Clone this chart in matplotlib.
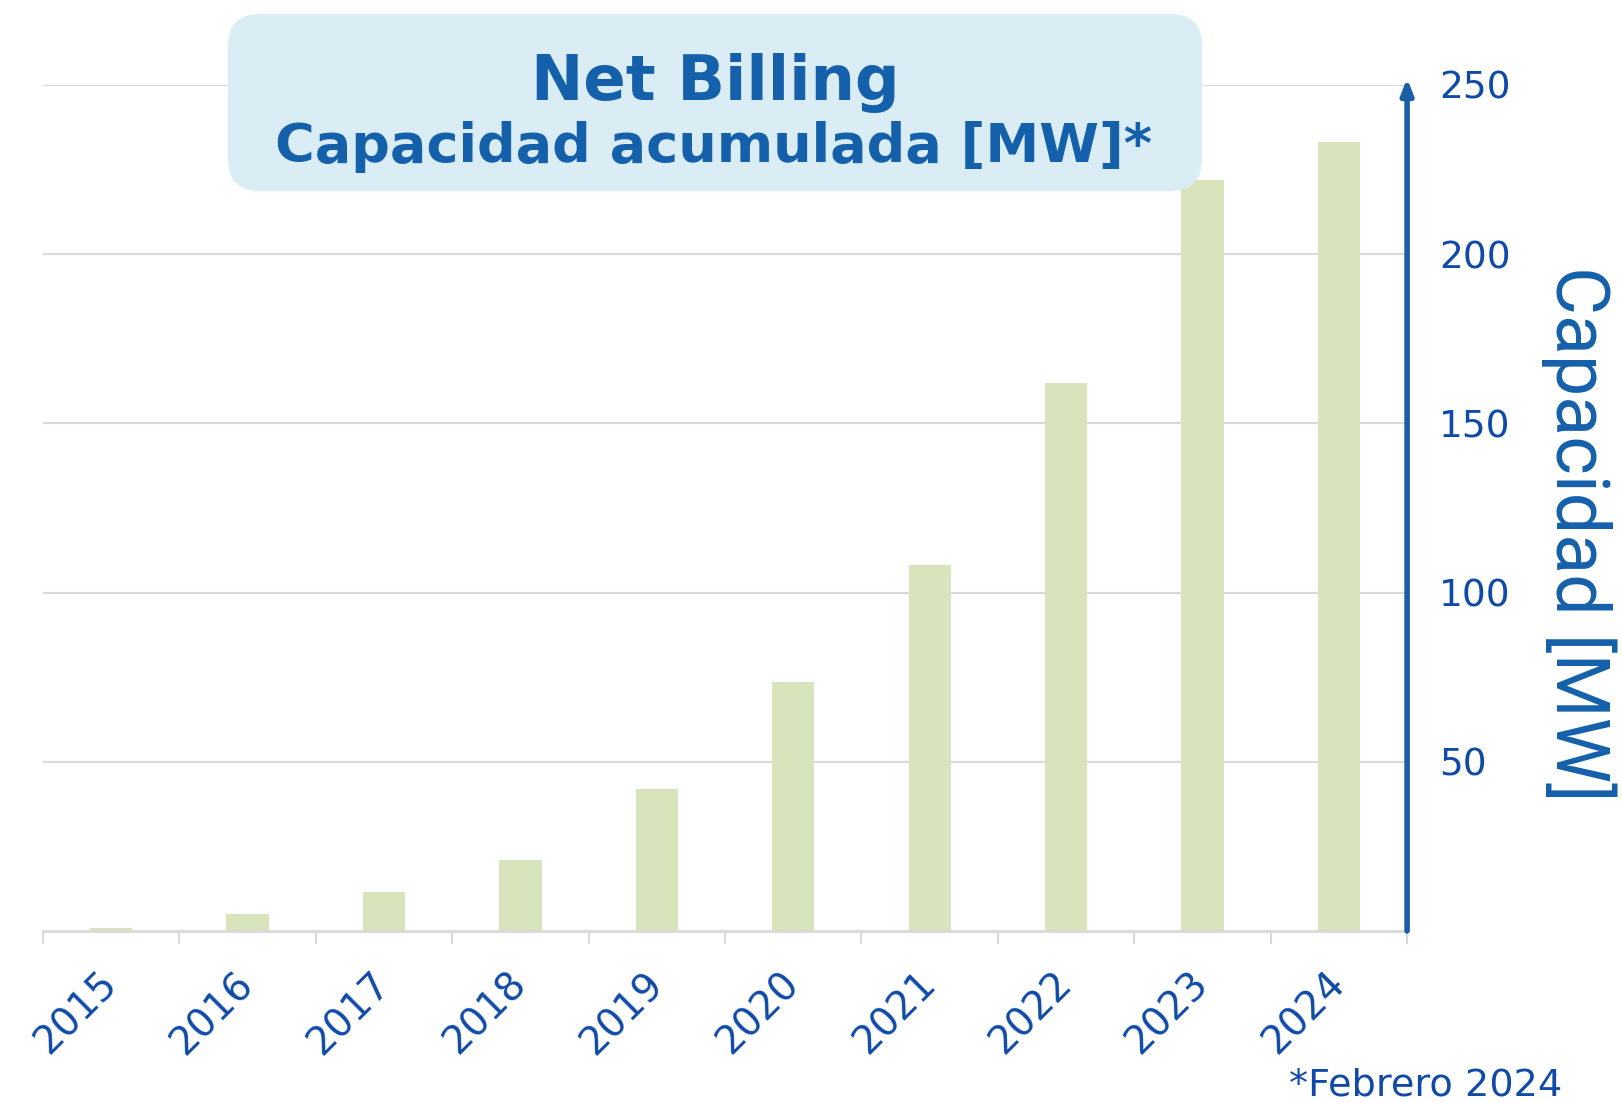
import numpy as np
import matplotlib
matplotlib.use('Agg')
import matplotlib.pyplot as plt
from matplotlib.patches import FancyBboxPatch

# Datos
years = ['2015', '2016', '2017', '2018', '2019', '2020', '2021', '2022', '2023', '2024']
capacity = [1, 5, 11.5, 21, 42, 73.5, 108, 162, 222, 233]
y_ticks = [50, 100, 150, 200, 250]

bar_color = '#d8e4bc'
blue = '#1560ab'
tick_blue = '#0f4aa8'
grid_color = '#d9d9d9'

fig = plt.figure(figsize=(16.22, 11.02), dpi=100)
ax = fig.add_axes([0.0265, 0.1552, 0.8410, 0.7677])

x = np.arange(len(years))
ax.bar(x, capacity, width=0.31, color=bar_color, zorder=2)

ax.set_xlim(-0.5, len(years) - 0.5)
ax.set_ylim(0, 250)

# lineas de grilla
for v in y_ticks:
    ax.axhline(v, color=grid_color, lw=1.5, zorder=1)

for s in ['left', 'top', 'right']:
    ax.spines[s].set_visible(False)
ax.spines['bottom'].set_color(grid_color)
ax.spines['bottom'].set_linewidth(2)

# eje x: etiquetas en el centro, marcas en los limites
ax.set_xticks(x)
ax.set_xticklabels(years, rotation=45, ha='right', va='center',
                   rotation_mode='anchor', fontsize=28, color=tick_blue)
ax.tick_params(axis='x', which='major', length=0, pad=34)
ax.set_xticks(np.arange(-0.5, len(years), 1), minor=True)
ax.tick_params(axis='x', which='minor', length=9, width=1.5, color=grid_color)

# eje y a la derecha
ax.yaxis.tick_right()
ax.set_yticks(y_ticks)
ax.set_yticklabels([str(v) for v in y_ticks], fontsize=27, color=tick_blue)
ax.tick_params(axis='y', length=0, pad=23)

# flecha del eje
ax.annotate('', xy=(len(years) - 0.5, 252), xytext=(len(years) - 0.5, 0),
            xycoords='data', annotation_clip=False,
            arrowprops=dict(arrowstyle='-|>,head_length=0.9,head_width=0.35',
                            color='#1a5ea8', lw=4, shrinkA=0, shrinkB=0))

fig.text(0.9735, 0.516, 'Capacidad [MW]', rotation=-90, ha='center', va='center',
         fontsize=53, color=blue, family=['Roboto', 'DejaVu Sans'])

# cuadro del titulo
box = FancyBboxPatch((2.28, 9.11), 9.74, 1.77,
                     boxstyle='round,pad=0,rounding_size=0.32',
                     transform=fig.dpi_scale_trans, facecolor='#daedf4',
                     edgecolor='none', zorder=5)
fig.patches.append(box)
fig.text(0.4408, 0.9093, 'Net Billing', ha='center', va='baseline',
         fontsize=45, fontweight='bold', color=blue, zorder=6)
fig.text(0.4396, 0.853, 'Capacidad acumulada [MW]*', ha='center', va='baseline',
         fontsize=39, fontweight='bold', color=blue, zorder=6)

fig.text(0.963, 0.006, '*Febrero 2024', ha='right', va='baseline',
         fontsize=27.5, color=tick_blue)

plt.savefig('out.png', dpi=100)
